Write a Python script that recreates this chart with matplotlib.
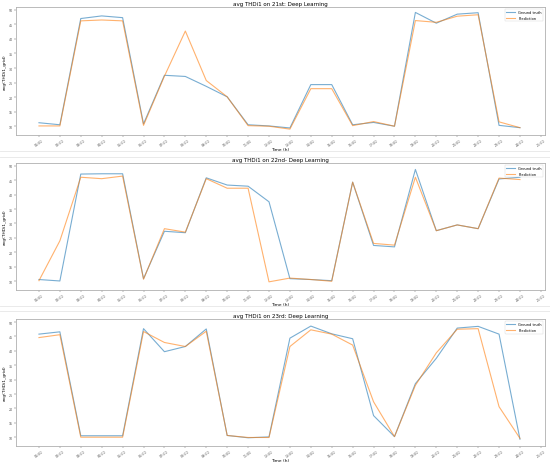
import matplotlib
matplotlib.use("Agg")
import matplotlib.pyplot as plt
from matplotlib.lines import Line2D

hours = list(range(1, 25))
tick_labels = ["{:02d}:00".format(h) for h in range(1, 26)]

titles = [
    "avg THDi1 on 21st: Deep Learning",
    "avg THDi1 on 22nd- Deep Learning",
    "avg THDi1 on 23rd: Deep Learning",
]

truth_21 = [11.2, 10.5, 47.0, 47.9, 47.3, 10.8, 27.5, 27.1, 23.7, 20.1, 10.5, 10.1,
            9.4, 24.3, 24.3, 10.5, 11.3, 10.0, 49.1, 45.4, 48.5, 49.0, 10.3, 9.5]
pred_21 = [10.1, 10.1, 46.2, 46.5, 46.2, 10.3, 27.2, 42.7, 25.7, 20.1, 10.2, 10.0,
           9.0, 22.9, 22.9, 10.2, 11.6, 10.0, 46.3, 45.7, 47.8, 48.3, 11.5, 9.5]

truth_22 = [10.6, 10.1, 47.1, 47.2, 47.2, 10.9, 27.3, 26.8, 45.8, 43.3, 42.9, 37.5,
            10.9, 10.6, 10.2, 44.3, 22.4, 21.9, 48.7, 27.5, 29.5, 28.2, 45.4, 46.0]
pred_22 = [10.2, 24.0, 46.0, 45.5, 46.4, 10.7, 28.2, 27.0, 45.5, 42.2, 42.2, 9.8,
           11.1, 10.6, 10.0, 44.3, 23.1, 22.5, 46.0, 27.5, 29.5, 28.2, 45.7, 45.2]

truth_23 = [45.8, 46.6, 10.5, 10.5, 10.5, 47.7, 39.7, 41.5, 47.6, 10.6, 9.8, 10.1,
            44.4, 48.6, 45.9, 44.2, 17.5, 10.2, 28.6, 37.4, 47.9, 48.5, 45.8, 9.3]
pred_23 = [44.6, 45.6, 10.0, 10.0, 10.0, 46.7, 42.9, 41.5, 46.8, 10.6, 9.9, 9.9,
           41.5, 47.3, 45.8, 42.0, 22.3, 10.2, 28.0, 39.3, 47.5, 47.7, 20.6, 9.6]

series = [(truth_21, pred_21), (truth_22, pred_22), (truth_23, pred_23)]

# panel boxes in figure fraction: left, bottom, width, height
boxes = [
    (0.029, 0.707, 0.962, 0.276),
    (0.029, 0.373, 0.962, 0.274),
    (0.029, 0.037, 0.962, 0.273),
]

fig = plt.figure(figsize=(5.5, 4.64), dpi=100)

for (truth, pred), title, box in zip(series, titles, boxes):
    ax = fig.add_axes(box)
    ax.plot(hours, truth, color="tab:blue", alpha=0.6, lw=0.8, label="Ground truth")
    ax.plot(hours, pred, color="tab:orange", alpha=0.6, lw=0.8, label="Prediction")
    ax.set_xticks(range(1, 26))
    ax.set_xticklabels(tick_labels, rotation=35, fontsize=2.3)
    ax.set_xlim(-0.1, 25.2)
    ax.set_ylim(7, 51)
    ax.set_yticks(range(10, 51, 5))
    ax.tick_params(axis="y", labelsize=2.3)
    ax.tick_params(length=1.2, width=0.3, pad=1, colors="#555555")
    ax.set_title(title, fontsize=4, pad=1.5)
    ax.set_xlabel("Time (h)", fontsize=3.2, labelpad=0.5)
    ax.set_ylabel("avg(THDi1_grid)", fontsize=3.2, labelpad=1)
    for spine in ax.spines.values():
        spine.set_color("#b0b0b0")
        spine.set_linewidth(0.6)
    leg = ax.legend(loc="upper right", fontsize=2.6, frameon=True, handlelength=2.5)
    leg.get_frame().set_linewidth(0.3)

# faint borders between the stacked panels
for y in [0.672, 0.660, 0.338, 0.327]:
    fig.add_artist(Line2D([0.0, 1.0], [y, y], color="#e6e6e6", lw=0.6))

fig.savefig("out.png", dpi=100)
